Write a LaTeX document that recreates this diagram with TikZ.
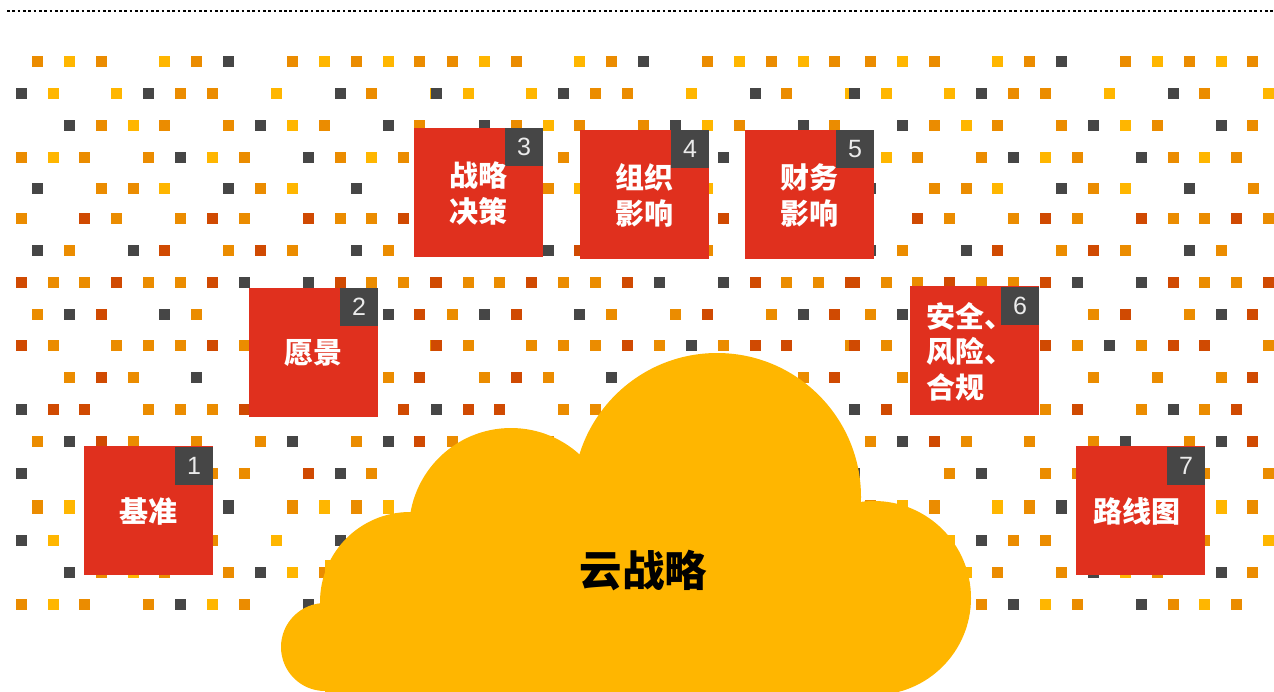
\documentclass[tikz,border=0pt]{standalone}
\usepackage{fontspec}
\setmainfont{Liberation Sans}
\newfontfamily\cjk{Noto Sans CJK SC}
\definecolor{dO}{HTML}{EB8C00}
\definecolor{dY}{HTML}{FFB600}
\definecolor{dD}{HTML}{464646}
\definecolor{dR}{HTML}{D04A02}
\definecolor{boxred}{HTML}{E0301E}
\tikzset{
  panel/.style={fill=boxred,draw=none,inner sep=0pt,minimum width=129pt,minimum height=129pt},
  numbox/.style={fill=dD,draw=none,inner sep=0pt,minimum width=38pt,minimum height=38pt,text=white!92!black,font=\fontsize{25}{28}\selectfont},
  paneltext/.style={inner sep=0pt,text=white,align=center,font=\cjk\bfseries\fontsize{29}{35.5}\selectfont},
  cloudfill/.style={fill=dY,draw=none}
}
\newcommand{\dotrow}[3]{%
  \foreach \cx/\cc in {#3}{\fill[\cc] ({\cx+\tileoff},#1) rectangle ++(11,#2);}%
}
\begin{document}
\begin{tikzpicture}[x=1pt,y=-1pt]
\useasboundingbox (0,0) rectangle (1274,691);
\draw[black,line width=2.8pt,dash pattern=on 2.67pt off 2.66pt] (7,11) -- (1274,11);
% dot field: one tile repeated three times
\foreach \tileoff in {0,415,833}{
  \dotrow{56}{11}{32/dO,64/dY,96/dO,159/dY,191/dO,223/dD,287/dO,319/dY,351/dO,383/dY,414/dO}
  \dotrow{88}{11}{16/dD,48/dY,111/dY,143/dD,175/dO,207/dO,271/dY,335/dD,366/dO,430/dY}
  \dotrow{120}{11}{64/dD,96/dO,128/dY,159/dO,223/dO,255/dD,287/dY,319/dO,383/dD,414/dO}
  \dotrow{152}{11}{16/dO,48/dY,79/dO,143/dO,175/dD,207/dY,239/dO,303/dD,335/dO,366/dY,398/dO}
  \dotrow{183}{11}{32/dD,96/dO,128/dO,159/dY,223/dD,255/dO,287/dY,351/dD,415/dO}
  \dotrow{213}{11}{16/dO,79/dR,111/dO,175/dO,207/dR,239/dO,303/dR,335/dO,366/dO,398/dR,430/dO}
  \dotrow{245}{11}{32/dD,64/dO,128/dD,159/dR,223/dO,255/dR,287/dO,351/dD,383/dO}
  \dotrow{277}{11}{16/dR,48/dO,79/dO,111/dR,143/dO,175/dO,207/dR,239/dD,303/dD,335/dR,366/dO,398/dO,430/dR}
  \dotrow{309}{11}{32/dO,64/dD,96/dR,159/dD,191/dO,255/dO,287/dR,351/dO,383/dD,414/dR}
  \dotrow{340}{11}{16/dR,48/dO,111/dO,143/dO,175/dO,207/dR,239/dO,271/dD,303/dO,335/dR,366/dR,430/dO}
  \dotrow{372}{11}{64/dO,96/dR,128/dO,191/dD,255/dO,319/dO,383/dO,414/dR}
  \dotrow{404}{11}{16/dD,48/dR,79/dR,143/dO,175/dO,207/dO,239/dR,303/dO,335/dD,366/dO,398/dR}
  \dotrow{436}{11}{32/dO,64/dD,96/dR,128/dO,191/dO,255/dO,287/dD,351/dO,383/dD,414/dR}
  \dotrow{468}{11}{16/dD,111/dO,143/dD,207/dO,239/dO,303/dR,335/dD,366/dO,430/dO}
  \dotrow{500}{14}{32/dO,64/dY,96/dO,159/dY,191/dO,223/dD,287/dO,319/dY,351/dO,383/dY,414/dO}
  \dotrow{535}{11}{16/dD,48/dY,111/dY,143/dD,175/dO,207/dO,271/dY,335/dD,366/dO,430/dY}
  \dotrow{567}{11}{64/dD,96/dO,128/dY,159/dO,223/dO,255/dD,287/dY,319/dO,383/dD,414/dO}
  \dotrow{599}{11}{16/dO,48/dY,79/dO,143/dO,175/dD,207/dY,239/dO,303/dD,335/dO,366/dY,398/dO}
}
% cloud
\fill[cloudfill] (717,497) circle[radius=144pt];
\fill[cloudfill] (511,530) circle[radius=102pt];
\fill[cloudfill] (410,602) circle[radius=90pt];
\fill[cloudfill] (325,647) circle[radius=44pt];
\fill[cloudfill] (874,598) circle[radius=97pt];
\fill[cloudfill] (325,560) rectangle (880,695);
\node[inner sep=0pt,text=black,font=\cjk\bfseries\fontsize{42.5}{48}\selectfont] (cloudlabel) at (643.5,571) {云战略};
% panels
\node[panel] (p1) at (148.5,510.5) {};
\node[numbox] (n1) at (194,466) {1};
\node[paneltext] (t1) at (148.5,511) {基准};
\node[panel] (p2) at (313.5,352.5) {};
\node[numbox] (n2) at (359,307) {2};
\node[paneltext] (t2) at (313.5,353.5) {愿景};
\node[panel] (p3) at (478.5,192.5) {};
\node[numbox] (n3) at (524,147) {3};
\node[paneltext] (t3) at (478.5,193.5) {战略\\决策};
\node[panel] (p4) at (644.5,194.5) {};
\node[numbox] (n4) at (690,149) {4};
\node[paneltext] (t4) at (644.5,195.5) {组织\\影响};
\node[panel] (p5) at (809.5,194.5) {};
\node[numbox] (n5) at (855,149) {5};
\node[paneltext] (t5) at (809.5,195.5) {财务\\影响};
\node[panel] (p6) at (974.5,350.5) {};
\node[numbox] (n6) at (1020,306) {6};
\node[paneltext,align=left,anchor=west] (t6) at (926,351.5) {安全、\\风险、\\合规};
\node[panel] (p7) at (1140.5,510.5) {};
\node[numbox] (n7) at (1186,466) {7};
\node[paneltext] (t7) at (1136.5,511.5) {路线图};
\end{tikzpicture}
\end{document}
